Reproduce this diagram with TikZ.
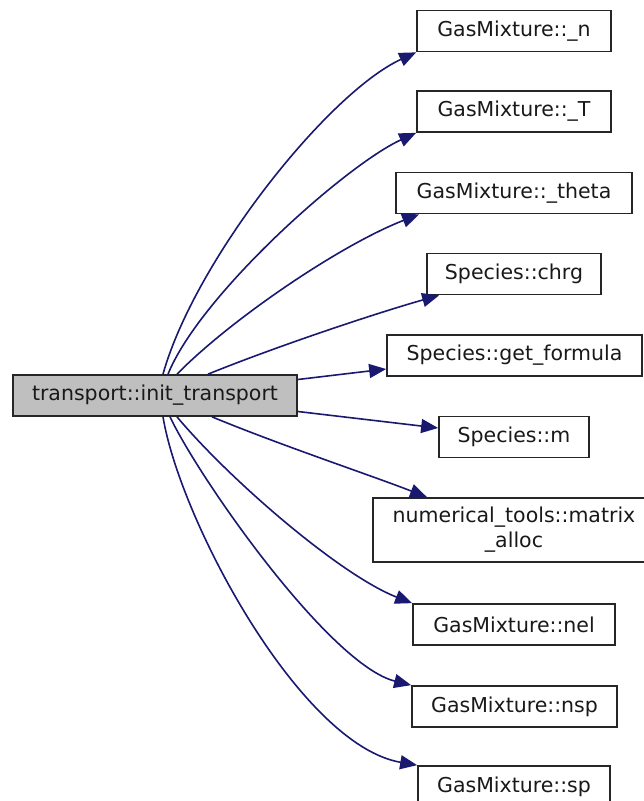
\documentclass[tikz,border=0pt]{standalone}
\usepackage{fontspec}
\setmainfont{DejaVu Sans}
\usetikzlibrary{arrows.meta}
\definecolor{edgeblue}{HTML}{191970}
\definecolor{rootgray}{HTML}{BFBFBF}
\begin{document}
\begin{tikzpicture}[x=1pt,y=-1pt,
  fn/.style={draw=black!85, line width=1.7pt, fill=white, inner sep=0pt,
    minimum height=41pt, align=center, text=black!90,
    font=\fontsize{20.5}{25}\selectfont},
  root/.style={fn, fill=rootgray},
  call/.style={draw=edgeblue, line width=1.6pt,
    -{Triangle[length=17pt,width=14pt,fill=edgeblue]}}]
\useasboundingbox (0,0) rectangle (643,801);

% caller
\node[root, minimum width=284pt] (main) at (155,395.5) {transport::init\_transport};

% callees
\node[fn, minimum width=194pt] (gn)    at (514,31)    {GasMixture::\_n};
\node[fn, minimum width=194pt] (gT)    at (514,111.5) {GasMixture::\_T};
\node[fn, minimum width=236pt] (gth)   at (514,193)   {GasMixture::\_theta};
\node[fn, minimum width=174pt] (chrg)  at (514,274)   {Species::chrg};
\node[fn, minimum width=255pt] (getf)  at (514.5,355.5) {Species::get\_formula};
\node[fn, minimum width=150pt] (sm)    at (514,437)   {Species::m};
\node[fn, minimum width=282pt, minimum height=64pt] (mat) at (514,530)
  {numerical\_tools::matrix\\\_alloc};
\node[fn, minimum width=202pt] (nel)   at (514,624.5) {GasMixture::nel};
\node[fn, minimum width=205pt] (nsp)   at (514.5,706.5) {GasMixture::nsp};
\node[fn, minimum width=192pt] (sp)    at (514,786.5) {GasMixture::sp};

% call edges
\draw[call] ([xshift=8pt]main.north)  .. controls (195,260) and (328,93)  .. (gn.south west);
\draw[call] ([xshift=13pt]main.north) .. controls (200,295) and (346,165) .. (gT.south west);
\draw[call] ([xshift=22pt]main.north) .. controls (230,320) and (340,245) .. ([xshift=24pt]gth.south west);
\draw[call] ([xshift=53pt]main.north) .. controls (280,345) and (380,312) .. ([xshift=13pt]chrg.south west);
\draw[call] ([yshift=16pt]main.east) -- ([yshift=-13.5pt]getf.west);
\draw[call] ([yshift=-16pt]main.east) -- ([yshift=9pt]sm.west);
\draw[call] ([xshift=57pt]main.south) .. controls (280,445) and (370,475) .. ([xshift=-87pt]mat.north);
\draw[call] ([xshift=22pt]main.south) .. controls (230,480) and (340,575) .. (nel.north west);
\draw[call] ([xshift=15pt]main.south) .. controls (200,480) and (330,665) .. (nsp.north west);
\draw[call] ([xshift=8pt]main.south)  .. controls (180,520) and (300,745) .. (sp.north west);
\end{tikzpicture}
\end{document}
